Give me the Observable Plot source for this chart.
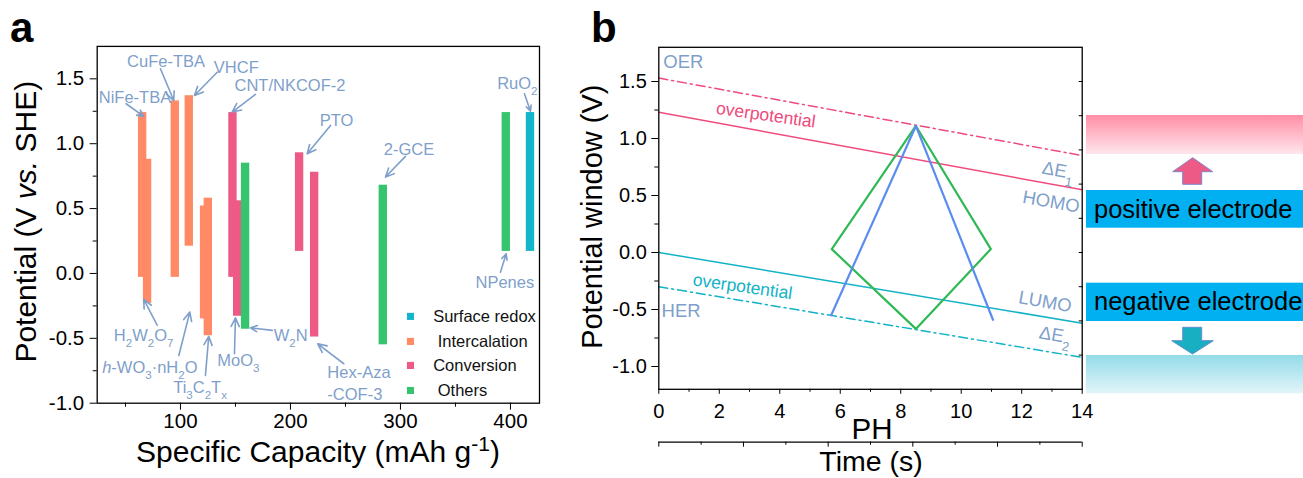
<!DOCTYPE html>
<html><head><meta charset="utf-8">
<script src="https://cdn.jsdelivr.net/npm/d3@7"></script>
<script src="https://cdn.jsdelivr.net/npm/@observablehq/plot@0.6"></script>
<style>
body{margin:0;background:#fff;}
#root{position:relative;width:1303px;height:478px;overflow:hidden;font-family:"Liberation Sans",Arial,sans-serif;}
#root > div, #root > svg{position:absolute;}
</style></head><body><div id="root"></div>
<script>
const FONT = '"Liberation Sans", Arial, sans-serif';
const LABEL = "#7f9fcb";

// ---------- Panel a data ----------
const materials = ["NiFe-TBA","H2W2O7","CuFe-TBA","VHCF","h-WO3·nH2O","Ti3C2Tx","CNT/NKCOF-2","MoO3","W2N","PTO","Hex-Aza-COF-3","2-GCE","NPenes","RuO2"];
const mechanism = ["Intercalation","Intercalation","Intercalation","Intercalation","Intercalation","Intercalation","Conversion","Conversion","Others","Conversion","Conversion","Others","Others","Surface redox"];
const capacity = [65.6,70.1,95.3,108.0,121.9,125.3,147.7,152.0,159.2,208.3,222.0,284.4,396.2,418.2];
const vTop    = [1.24,0.88,1.33,1.37,0.52,0.58,1.24,0.56,0.85,0.93,0.78,0.68,1.24,1.24];
const vBottom = [-0.03,-0.23,-0.03,0.21,-0.35,-0.48,-0.03,-0.33,-0.43,0.17,-0.49,-0.55,0.17,0.17];
const legendOrder = ["Surface redox","Intercalation","Conversion","Others"];
const legendText  = ["Surface redox","\u00A0Intercalation","Conversion","\u00A0Others"];
const legendY = [-0.331,-0.524,-0.709,-0.902];
const mechColors = ["#12b5c9","#ff8a65","#ee5a86","#36c46f"];

// annotation labels (text start x, centre y) and arrows (from -> to), in data units
const annText = ["NiFe-TBA","CuFe-TBA","VHCF","CNT/NKCOF-2","PTO","2-GCE","RuO_2","NPenes","H_2W_2O_7","*h*-WO_3·nH_2O","Ti_3C_2T_x","MoO_3","W_2N","Hex-Aza\n-COF-3"];
const annX = [25.7,51.5,130.3,149.1,226.6,284.8,387.9,368.2,39.4,28.8,93.4,133.4,184.8,233.5];
const annY = [1.372,1.647,1.603,1.462,1.192,0.969,1.474,-0.059,-0.465,-0.709,-0.868,-0.657,-0.465,-0.834];
const arrX1 = [50.6,81.8,133.4,168.2,236.4,304.5,412.7,390.9,78.8,98.5,122.7,149.1,183.4,248.5];
const arrY1 = [1.308,1.578,1.551,1.380,1.141,0.902,1.385,0.010,-0.399,-0.632,-0.786,-0.619,-0.439,-0.696];
const arrX2 = [66.6,93.9,112.7,147.0,215.2,286.4,418.2,396.1,66.6,108.5,125.7,150.0,163.6,224.8];
const arrY2 = [1.210,1.333,1.372,1.244,0.922,0.743,1.251,0.151,-0.200,-0.298,-0.485,-0.342,-0.419,-0.542];

// ---------- Panel b data ----------
const pH = [0, 14];
const oerLine  = [1.53, 0.85];
const homoLine = [1.23, 0.55];
const lumoLine = [0.00, -0.62];
const herLine  = [-0.30, -0.92];
const blueX = [5.70, 8.50, 11.05];
const blueY = [-0.55, 1.11, -0.59];
const greenX = [5.72, 8.50, 10.98, 8.50, 5.72];
const greenY = [0.03, 1.11, 0.03, -0.67, 0.03];
const bText = ["OER","HER","overpotential","overpotential","ΔE_1","HOMO","LUMO","ΔE_2"];
const bX = [0.15, 0.09, 3.54, 2.77, 13.2, 12.97, 12.77, 13.1];
const bY = [1.667, -0.515, 1.205, -0.30, 0.72, 0.444, -0.433, -0.725];
const timeTicks = [0,1,2,3,4,5];

const PINK = "#ef4b7c", CYAN = "#12b3c6";

const HALF = 3.8;
const root = document.getElementById("root");

// ---------- Panel a ----------
const bars = materials.map((m,i)=>({m, mech: mechanism[i], x1: capacity[i]-HALF, x2: capacity[i]+HALF, y1: vBottom[i], y2: vTop[i]}));
const ann = annText.map((t,i)=>({t, x: annX[i], y: annY[i]}));
const arr = arrX1.map((x,i)=>({x1:x, y1:arrY1[i], x2:arrX2[i], y2:arrY2[i]}));
const leg = legendOrder.map((k,i)=>({k, t: legendText[i], y: legendY[i]}));
const fmt1 = d => d.toFixed(1);

const plotA = Plot.plot({
  width: 560, height: 478,
  marginLeft: 96.7, marginRight: 21, marginTop: 45.9, marginBottom: 75.3,
  x: {domain: [24.3, 426.4]},
  y: {domain: [-1, 1.75]},
  color: {domain: legendOrder, range: mechColors},
  style: {fontFamily: FONT, fontSize: "20px", background: "transparent", overflow: "visible", color: "#000"},
  marks: [
    Plot.rect(bars, {x1:"x1", x2:"x2", y1:"y1", y2:"y2", fill:"mech"}),
    Plot.arrow(arr, {x1:"x1", y1:"y1", x2:"x2", y2:"y2", stroke: LABEL, strokeWidth: 1.6, headLength: 9, headAngle: 50}),
    Plot.text(ann, {x:"x", y:"y", text:"t", textAnchor:"start", fill: LABEL, fontSize: 16.5, lineHeight: 1.35}),
    Plot.dot(leg, {x: 309.1, y:"y", fill:"k", symbol:"square", r: 4}),
    Plot.text(leg, {x: 329.7, y:"y", text:"t", textAnchor:"start", fill:"#111", fontSize: 16.5}),
    Plot.frame({stroke:"#000", strokeWidth: 1.3}),
    Plot.axisX({ticks:[100,200,300,400], tickSize:7, tickPadding:3, fontSize:20.5, label:null}),
    Plot.axisX({ticks:[50,150,250,350], tickSize:4, tickFormat:()=>"", label:null}),
    Plot.axisY({ticks:[-1,-0.5,0,0.5,1,1.5], tickFormat: fmt1, tickSize:7, tickPadding:6, fontSize:20.5, label:null}),
    Plot.axisY({ticks:[-0.75,-0.25,0.25,0.75,1.25], tickSize:4, tickFormat:()=>"", label:null})
  ]
});
const wrapA = document.createElement("div");
wrapA.style.left = "0px"; wrapA.style.top = "0px";
wrapA.appendChild(plotA);
root.appendChild(wrapA);

// ---------- Panel b ----------
const seg = (vals) => pH.map((x,i)=>({x, y: vals[i]}));
const blue = blueX.map((x,i)=>({x, y: blueY[i]}));
const green = greenX.map((x,i)=>({x, y: greenY[i]}));
const bT = bText.map((t,i)=>({t, x: bX[i], y: bY[i]}));
const plotB = Plot.plot({
  width: 530, height: 478,
  marginLeft: 98.3, marginRight: 8.3, marginTop: 46.8, marginBottom: 89.2,
  x: {domain: [0, 14]},
  y: {domain: [-1.2, 1.8]},
  style: {fontFamily: FONT, fontSize: "20px", background: "transparent", overflow: "visible", color: "#000"},
  marks: [
    Plot.line(seg(oerLine), {x:"x", y:"y", stroke: PINK, strokeWidth: 1.5, strokeDasharray: "9,4,2,4"}),
    Plot.line(seg(homoLine), {x:"x", y:"y", stroke: PINK, strokeWidth: 1.5}),
    Plot.line(seg(lumoLine), {x:"x", y:"y", stroke: CYAN, strokeWidth: 1.5}),
    Plot.line(seg(herLine), {x:"x", y:"y", stroke: CYAN, strokeWidth: 1.5, strokeDasharray: "9,4,2,4"}),
    Plot.line(green, {x:"x", y:"y", stroke: "#2fb955", strokeWidth: 2.2}),
    Plot.line(blue, {x:"x", y:"y", stroke: "#5b8df0", strokeWidth: 2.2}),
    Plot.text(bT.slice(0,2), {x:"x", y:"y", text:"t", textAnchor:"start", fill: LABEL, fontSize: 18.5}),
    Plot.text(bT.slice(2,3), {x:"x", y:"y", text:"t", fill: PINK, fontSize: 17.5, rotate: 8}),
    Plot.text(bT.slice(3,4), {x:"x", y:"y", text:"t", fill: CYAN, fontSize: 17.5, rotate: 8}),
    Plot.text(bT.slice(4), {x:"x", y:"y", text:"t", fill: LABEL, fontSize: 18.5, rotate: 10}),
    Plot.frame({stroke:"#000", strokeWidth: 1.3}),
    Plot.axisX({ticks: d3.range(0,15,2), tickSize:5, tickPadding:9, fontSize:20, label:null}),
    Plot.axisX({ticks: d3.range(1,14,2), tickSize:3, tickFormat:()=>"", label:null}),
    Plot.axisY({ticks:[-1,-0.5,0,0.5,1,1.5], tickFormat: fmt1, tickSize:7, tickPadding:5, fontSize:20, label:null}),
    Plot.axisY({ticks:[-0.75,-0.25,0.25,0.75,1.25], tickSize:4, tickFormat:()=>"", label:null}),
    Plot.axisY({anchor:"right", ticks: d3.range(-0.9,1.6,0.3), tickSize:-4, tickFormat:()=>"", label:null})
  ]
});
const wrapB = document.createElement("div");
wrapB.style.left = "560px"; wrapB.style.top = "0px";
wrapB.appendChild(plotB);
root.appendChild(wrapB);

// ---------- Time axis ----------
const plotT = Plot.plot({
  width: 530, height: 20,
  marginLeft: 98.3, marginRight: 8.3, marginTop: 0, marginBottom: 8.3,
  x: {domain: [0, 5], axis: null},
  y: {domain: [0, 1], axis: null},
  style: {background: "transparent", overflow: "visible"},
  marks: [
    Plot.ruleY([0], {stroke:"#000", strokeWidth: 1.3}),
    Plot.axisX({ticks: timeTicks, tickSize:5, tickFormat:()=>"", label:null}),
    Plot.axisX({ticks: timeTicks.slice(0,5).map(d=>d+0.5), tickSize:3, tickFormat:()=>"", label:null})
  ]
});
const wrapT = document.createElement("div");
wrapT.style.left = "560px"; wrapT.style.top = "430px";
wrapT.appendChild(plotT);
root.appendChild(wrapT);

// ---------- Overlay: panel letters, titles, electrode boxes ----------
const ov = d3.select(root).append("svg").attr("width",1303).attr("height",478)
  .style("left","0px").style("top","0px").style("pointer-events","none")
  .attr("font-family", FONT);
const defs = ov.append("defs");
const g1 = defs.append("linearGradient").attr("id","gPink").attr("x1",0).attr("y1",0).attr("x2",0).attr("y2",1);
g1.append("stop").attr("offset","0%").attr("stop-color","#ff8ea5");
g1.append("stop").attr("offset","100%").attr("stop-color","#ffe6ec");
const g2 = defs.append("linearGradient").attr("id","gCyan").attr("x1",0).attr("y1",0).attr("x2",0).attr("y2",1);
g2.append("stop").attr("offset","0%").attr("stop-color","#93dbe8");
g2.append("stop").attr("offset","100%").attr("stop-color","#e2f5f9");

ov.append("text").attr("x",10).attr("y",42).attr("font-size",42).attr("font-weight","bold").text("a");
ov.append("text").attr("x",591).attr("y",41.5).attr("font-size",42).attr("font-weight","bold").text("b");

ov.append("text").attr("transform","translate(36,221.7) rotate(-90)").attr("text-anchor","middle")
  .attr("font-size",30).text("Potential (V *vs.* SHE)");
ov.append("text").attr("x",318).attr("y",462).attr("text-anchor","middle").attr("font-size",30)
  .text("Specific Capacity (mAh g^{-1})");
ov.append("text").attr("transform","translate(602,216.7) rotate(-90)").attr("text-anchor","middle")
  .attr("font-size",29).text("Potential window (V)");
ov.append("text").attr("x",872).attr("y",438.5).attr("text-anchor","middle").attr("font-size",29.5).text("PH");
ov.append("text").attr("x",871).attr("y",471).attr("text-anchor","middle").attr("font-size",28.5).text("Time (s)");

ov.append("rect").attr("x",1086).attr("y",115).attr("width",217).attr("height",39).attr("fill","url(#gPink)");
ov.append("rect").attr("x",1086).attr("y",355).attr("width",217).attr("height",38.3).attr("fill","url(#gCyan)");
ov.append("rect").attr("x",1086).attr("y",190).attr("width",217).attr("height",37.7).attr("fill","#00b0f0");
ov.append("rect").attr("x",1086).attr("y",282.7).attr("width",217).attr("height",38.3).attr("fill","#00b0f0");
ov.append("text").attr("x",1094).attr("y",217.7).attr("font-size",25.5).attr("fill","#000").text("positive electrode");
ov.append("text").attr("x",1094).attr("y",310).attr("font-size",25.5).attr("fill","#000").text("negative electrode");
ov.append("polygon").attr("points","1192.7,157.7 1212.7,171.7 1201.7,171.7 1201.7,184.3 1182.7,184.3 1182.7,171.7 1172.7,171.7")
  .attr("fill","#ee5a86").attr("stroke","#7f84c8").attr("stroke-width",1);
ov.append("polygon").attr("points","1182.7,327.3 1201.7,327.3 1201.7,340.7 1213.3,340.7 1192.5,354 1171.7,340.7 1182.7,340.7")
  .attr("fill","#17afc1").attr("stroke","#5f8fd0").attr("stroke-width",1);

// ---------- rich text: _sub, ^sup, *italic* ----------
const NS = "http://www.w3.org/2000/svg";
function rich(el){
  const s = el.textContent;
  if (!/[_^*]/.test(s)) return;
  el.textContent = "";
  const push = (str, kind) => {
    if (!str) return;
    const ts = document.createElementNS(NS, "tspan");
    ts.textContent = str;
    if (kind === "sub") { ts.setAttribute("baseline-shift","sub"); ts.setAttribute("font-size","70%"); }
    if (kind === "sup") { ts.setAttribute("baseline-shift","super"); ts.setAttribute("font-size","70%"); }
    if (kind === "it") ts.setAttribute("font-style","italic");
    el.appendChild(ts);
  };
  let i = 0, buf = "";
  while (i < s.length) {
    const c = s[i];
    if (c === "_" || c === "^") {
      push(buf); buf = "";
      let content;
      if (s[i+1] === "{") { const j = s.indexOf("}", i); content = s.slice(i+2, j); i = j+1; }
      else { content = s[i+1]; i += 2; }
      push(content, c === "_" ? "sub" : "sup");
    } else if (c === "*") {
      push(buf); buf = "";
      const j = s.indexOf("*", i+1); push(s.slice(i+1, j), "it"); i = j+1;
    } else { buf += c; i++; }
  }
  push(buf);
}
root.querySelectorAll("text").forEach(t => {
  if (t.children.length) { t.querySelectorAll("tspan").forEach(ts => { if (!ts.children.length) rich(ts); }); }
  else rich(t);
});
</script></body></html>
